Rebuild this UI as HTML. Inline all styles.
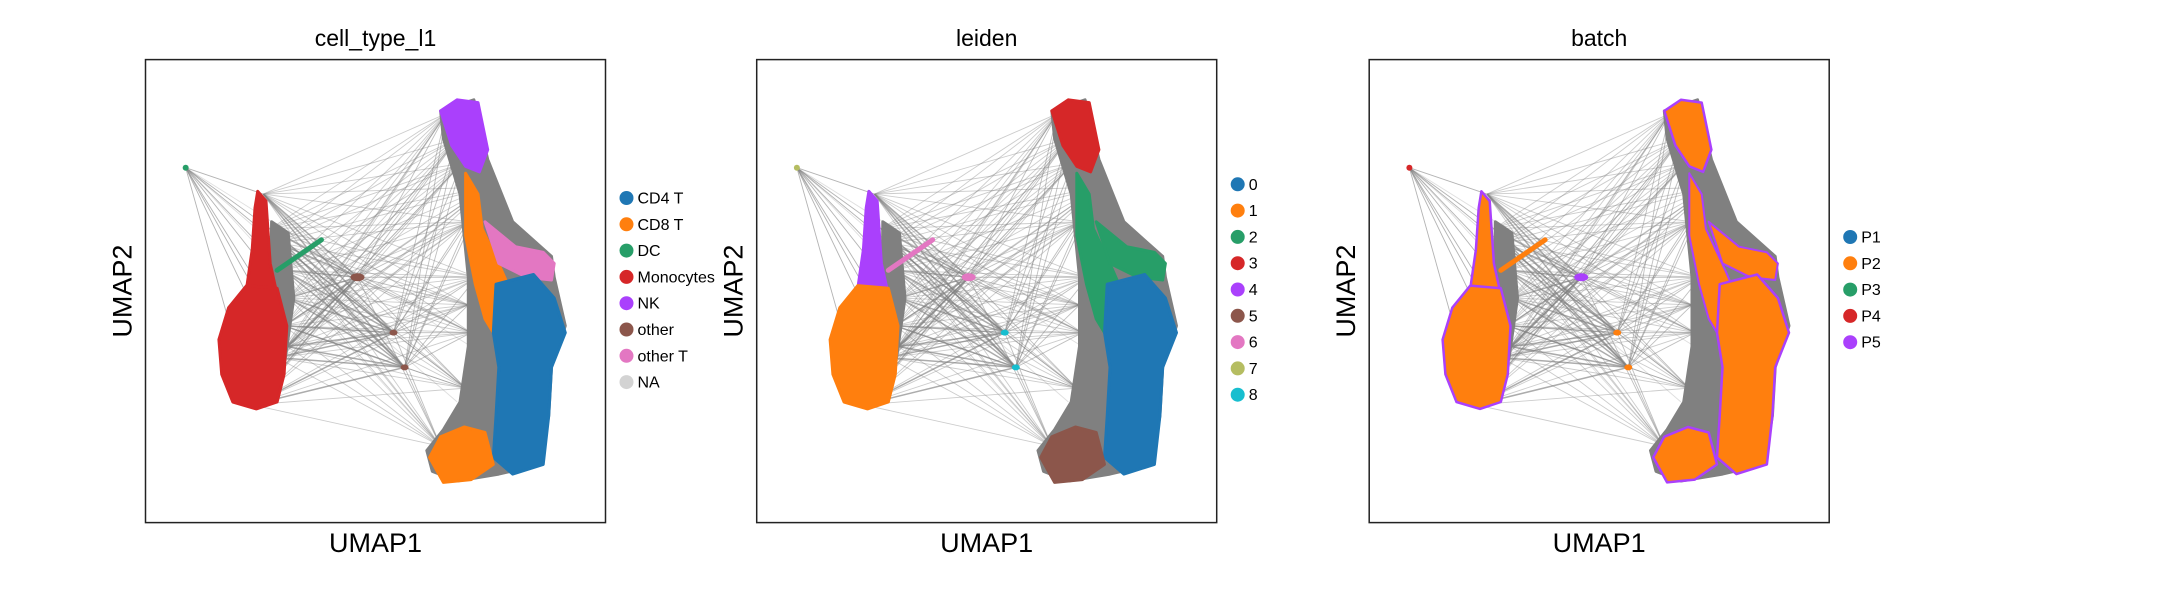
<!DOCTYPE html>
<html><head><meta charset="utf-8"><style>
html,body{margin:0;padding:0;background:#fff;}
svg{display:block;font-family:"Liberation Sans","DejaVu Sans",sans-serif;}
</style></head><body>
<svg id="fig" width="2173" height="600" viewBox="0 0 2173 600" xmlns="http://www.w3.org/2000/svg"></svg>
<script>
// ---- data ----
const panelTitles = ["cell_type_l1","leiden","batch"];
const legend1Labels = ["CD4 T","CD8 T","DC","Monocytes","NK","other","other T","NA"];
const legend1Colors = ["#1f77b4","#ff7f0e","#279e68","#d62728","#aa40fc","#8c564b","#e377c2","#d3d3d3"];
const legend2Labels = ["0","1","2","3","4","5","6","7","8"];
const legend2Colors = ["#1f77b4","#ff7f0e","#279e68","#d62728","#aa40fc","#8c564b","#e377c2","#b5bd61","#17becf"];
const legend3Labels = ["P1","P2","P3","P4","P5"];
const legend3Colors = ["#1f77b4","#ff7f0e","#279e68","#d62728","#aa40fc"];

// embedding regions (reference panel units)
const regionBand = [[318,80],[342,72],[352,115],[370,160],[398,185],[400,200],[408,235],[398,265],[396,300],[390,335],[360,342],[330,347],[312,340],[308,325],[320,310],[332,290],[338,250],[338,200],[332,140],[320,100]];
const regionNK = [[318,80],[330,72],[345,74],[352,108],[346,124],[336,120],[326,105]];
const regionCD8 = [[336,125],[345,140],[348,165],[362,195],[375,225],[372,255],[362,250],[350,230],[343,205],[336,170]];
const regionOtherT = [[350,160],[372,178],[392,182],[400,190],[398,202],[380,200],[360,190]];
const regionCD4 = [[358,205],[385,198],[400,215],[408,240],[398,265],[396,300],[392,335],[370,342],[356,330],[358,300],[360,265],[356,240]];
const regionCD8b = [[310,330],[318,315],[335,308],[350,312],[356,335],[340,346],[320,348]];
const regionMonoGray = [[196,160],[208,168],[212,215],[206,258],[200,275],[195,255]];
const regionMonoStem = [[186,138],[192,145],[195,190],[199,208],[178,208],[182,180],[184,150]];
const regionMonoBody = [[178,206],[200,208],[207,235],[205,270],[200,290],[185,295],[168,290],[160,270],[158,245],[165,222]];
const dcLine = [[200,195],[232,173]];
const farLeftNode = [134,121];
const smallNodes = [[258,200],[284,240],[292,265]];
const leftAnchors = [[200,175],[205,195],[208,215],[205,235],[200,258],[190,140],[182,292],[195,165],[207,250]];
const rightAnchors = [[322,82],[333,118],[338,160],[344,200],[340,240],[336,280],[318,322],[352,135],[330,100],[338,220]];

const boxX = [145.5,756.7,1369.2], boxY = 59.6, boxW = 460, boxH = 463;
const NS = "http://www.w3.org/2000/svg";
const svg = document.getElementById("fig");
function mk(tag, attrs, parent){const e=document.createElementNS(NS,tag);for(const k in attrs)e.setAttribute(k,attrs[k]);(parent||svg).appendChild(e);return e;}
function sx(p,px){return boxX[p]+(px-105)/332*boxW;}
function sy(py){return boxY+(py-43)/334*boxH;}
function poly(p,pts,fill,g,stroke,sw){
  return mk("polygon",{points:pts.map(q=>sx(p,q[0]).toFixed(1)+","+sy(q[1]).toFixed(1)).join(" "),fill:fill,stroke:stroke||fill,"stroke-width":sw||3,"stroke-linejoin":"round"},g);
}

const colorsByPanel = [
  {band:"#808080",nk:"#aa40fc",cd8:"#ff7f0e",ot:"#e377c2",cd4:"#1f77b4",cd8b:"#ff7f0e",stem:"#d62728",body:"#d62728",dc:"#279e68",far:"#279e68",small:["#8c564b","#8c564b","#8c564b"]},
  {band:"#808080",nk:"#d62728",cd8:"#279e68",ot:"#279e68",cd4:"#1f77b4",cd8b:"#8c564b",stem:"#aa40fc",body:"#ff7f0e",dc:"#e377c2",far:"#b5bd61",small:["#e377c2","#17becf","#17becf"]},
  {band:"#808080",nk:"#ff7f0e",cd8:"#ff7f0e",ot:"#ff7f0e",cd4:"#ff7f0e",cd8b:"#ff7f0e",stem:"#ff7f0e",body:"#ff7f0e",dc:"#ff7f0e",far:"#d62728",small:["#aa40fc","#ff7f0e","#ff7f0e"]}
];
const legends = [[legend1Labels,legend1Colors,198],[legend2Labels,legend2Colors,184.3],[legend3Labels,legend3Colors,237]];

for(let p=0;p<3;p++){
  const c=colorsByPanel[p];
  const g=mk("g",{});
  
  
  const eg=mk("g",{stroke:"#808080","stroke-width":0.9,fill:"none"},g);
  
  
  for(const a of leftAnchors)for(const b of rightAnchors){
    mk("line",{x1:sx(p,a[0]),y1:sy(a[1]),x2:sx(p,b[0]),y2:sy(b[1]),"stroke-opacity":0.4},eg);
  }
  for(const n of smallNodes){
    for(const a of leftAnchors)mk("line",{x1:sx(p,n[0]),y1:sy(n[1]),x2:sx(p,a[0]),y2:sy(a[1]),"stroke-opacity":0.65,"stroke-width":1.5},eg);
    for(const b of rightAnchors)mk("line",{x1:sx(p,n[0]),y1:sy(n[1]),x2:sx(p,b[0]),y2:sy(b[1]),"stroke-opacity":0.5},eg);
  }
  for(const a of leftAnchors)mk("line",{x1:sx(p,farLeftNode[0]),y1:sy(farLeftNode[1]),x2:sx(p,a[0]),y2:sy(a[1]),"stroke-opacity":0.6},eg);
  for(const b of [[318,322],[330,290],[340,250]])mk("line",{x1:sx(p,farLeftNode[0]),y1:sy(farLeftNode[1]),x2:sx(p,b[0]),y2:sy(b[1]),"stroke-opacity":0.25},eg);
  poly(p,regionBand,c.band,g);
  poly(p,regionMonoGray,c.band,g);
  const outline = p===2 ? "#aa40fc" : null;
  const ow = p===2 ? 2.5 : 3;
  poly(p,regionNK,c.nk,g,outline,ow);
  poly(p,regionCD8,c.cd8,g,outline,p===2?2:3);
  poly(p,regionOtherT,c.ot,g,outline,p===2?2:3);
  poly(p,regionCD4,c.cd4,g,outline,ow);
  poly(p,regionCD8b,c.cd8b,g,outline,ow);
  poly(p,regionMonoStem,c.stem,g,outline,ow);
  poly(p,regionMonoBody,c.body,g,outline,ow);
  mk("line",{x1:sx(p,dcLine[0][0]),y1:sy(dcLine[0][1]),x2:sx(p,dcLine[1][0]),y2:sy(dcLine[1][1]),stroke:c.dc,"stroke-width":5,"stroke-linecap":"round"},g);
  mk("circle",{cx:sx(p,farLeftNode[0]),cy:sy(farLeftNode[1]),r:3,fill:c.far},g);
  smallNodes.forEach((n,i)=>mk("ellipse",{cx:sx(p,n[0]),cy:sy(n[1]),rx:i===0?7:4,ry:i===0?4:3,fill:c.small[i]},g));
  const fr=mk("rect",{x:boxX[p],y:boxY,width:boxW,height:boxH,fill:"none",stroke:"#222","stroke-width":1.5},g);
  
  
  const t=mk("text",{x:boxX[p]+boxW/2,y:46,"text-anchor":"middle","font-size":23,fill:"#000"},g);
  t.textContent=panelTitles[p];
  
  
  const xl=mk("text",{x:boxX[p]+boxW/2,y:552,"text-anchor":"middle","font-size":27,fill:"#000"},g);
  xl.textContent="UMAP1";
  
  
  const yx=boxX[p]-14, yy=boxY+boxH/2;
  const yl=mk("text",{x:yx,y:yy,"text-anchor":"middle","font-size":27,fill:"#000",transform:`rotate(-90 ${yx} ${yy})`},g);
  yl.textContent="UMAP2";
  
  
  const [labs,cols,y0]=legends[p];
  const lx=boxX[p]+boxW+21;
  labs.forEach((lab,i)=>{
    const le=mk("g",{},g);
    
    
    const y=y0+i*26.3;
    mk("circle",{cx:lx,cy:y,r:7,fill:cols[i]},le);
    const tx=mk("text",{x:lx+11,y:y+5.5,"font-size":16,fill:"#000"},le);
    tx.textContent=lab;
  });
}
</script>
</body></html>
